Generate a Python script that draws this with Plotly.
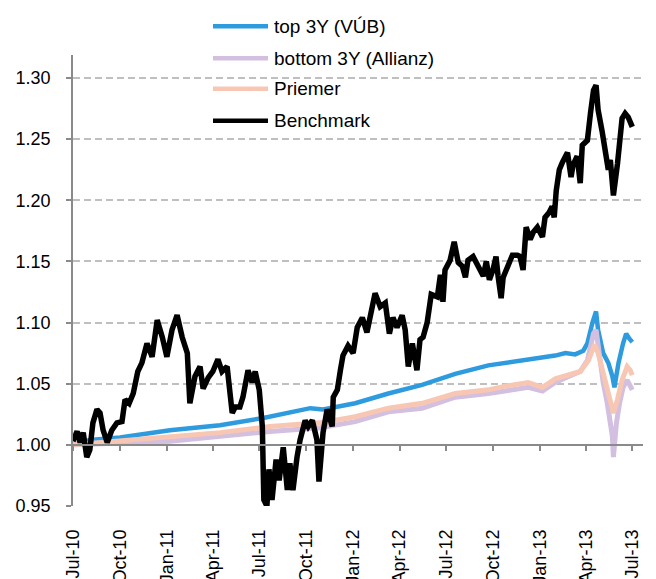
import plotly.graph_objects as go

# ---------------- data ----------------
series_names = ["top 3Y (VÚB)", "bottom 3Y (Allianz)", "Priemer", "Benchmark"]

top_dates = ["2010-07-01", "2010-08-03", "2010-10-01", "2011-01-07", "2011-04-15", "2011-07-09",
             "2011-10-09", "2011-11-03", "2012-01-05", "2012-03-10", "2012-05-15", "2012-07-19",
             "2012-09-22", "2012-11-27", "2013-01-06", "2013-01-31", "2013-02-20", "2013-03-11",
             "2013-03-27", "2013-04-04", "2013-04-14", "2013-04-21", "2013-04-25", "2013-05-05",
             "2013-05-15", "2013-05-23", "2013-05-27", "2013-06-04", "2013-06-13", "2013-06-19",
             "2013-06-25", "2013-07-01"]
top_values = [1.000, 1.004, 1.006, 1.012, 1.016, 1.022,
              1.030, 1.029, 1.034, 1.042, 1.049, 1.058,
              1.065, 1.069, 1.071, 1.073, 1.075, 1.074,
              1.077, 1.083, 1.100, 1.109, 1.094, 1.075,
              1.067, 1.056, 1.047, 1.067, 1.083, 1.091,
              1.087, 1.084]

bottom_dates = ["2010-07-01", "2011-01-07", "2011-07-22", "2011-10-28", "2012-01-05", "2012-03-10",
                "2012-05-15", "2012-07-19", "2012-09-22", "2012-12-09", "2013-01-06", "2013-01-31",
                "2013-02-26", "2013-03-21", "2013-04-04", "2013-04-16", "2013-04-21", "2013-04-27",
                "2013-05-05", "2013-05-13", "2013-05-17", "2013-05-23", "2013-05-25", "2013-05-31",
                "2013-06-06", "2013-06-13", "2013-06-21", "2013-06-27", "2013-07-01"]
bottom_values = [1.000, 1.003, 1.011, 1.014, 1.019, 1.027,
                 1.030, 1.039, 1.042, 1.047, 1.044, 1.051,
                 1.056, 1.060, 1.069, 1.091, 1.094, 1.072,
                 1.051, 1.034, 1.023, 1.007, 0.990, 1.018,
                 1.034, 1.047, 1.053, 1.049, 1.045]

avg_dates = ["2010-07-01", "2010-08-29", "2011-01-07", "2011-04-15", "2011-07-22", "2011-10-28",
             "2012-01-05", "2012-03-10", "2012-05-15", "2012-07-19", "2012-09-22", "2012-10-25",
             "2012-12-09", "2013-01-06", "2013-01-31", "2013-02-26", "2013-03-21", "2013-04-06",
             "2013-04-18", "2013-04-25", "2013-05-09", "2013-05-19", "2013-05-25", "2013-06-02",
             "2013-06-11", "2013-06-21", "2013-06-27", "2013-07-01"]
avg_values = [1.000, 1.002, 1.006, 1.010, 1.015, 1.018,
              1.023, 1.030, 1.034, 1.042, 1.045, 1.048,
              1.051, 1.047, 1.054, 1.057, 1.060, 1.069,
              1.082, 1.075, 1.053, 1.034, 1.026, 1.037,
              1.053, 1.064, 1.061, 1.057]

bench_dates = [
    "2010-07-01", "2010-07-09", "2010-07-15", "2010-07-21", "2010-07-28", "2010-08-03",
    "2010-08-09", "2010-08-17", "2010-08-23", "2010-08-29", "2010-09-06", "2010-09-15",
    "2010-09-25", "2010-10-05", "2010-10-11", "2010-10-19", "2010-10-27", "2010-11-05",
    "2010-11-13", "2010-11-23", "2010-12-03", "2010-12-13", "2010-12-23", "2011-01-01",
    "2011-01-11", "2011-01-21", "2011-01-31", "2011-02-10", "2011-02-15", "2011-02-25",
    "2011-03-07", "2011-03-13", "2011-03-23", "2011-04-01", "2011-04-11", "2011-04-19",
    "2011-04-29", "2011-05-09", "2011-05-15", "2011-05-24", "2011-05-30", "2011-06-09",
    "2011-06-17", "2011-06-23", "2011-07-01", "2011-07-07", "2011-07-10", "2011-07-16",
    "2011-07-20", "2011-07-26", "2011-08-03", "2011-08-09", "2011-08-17", "2011-08-25",
    "2011-08-30", "2011-09-05", "2011-09-13", "2011-09-19", "2011-09-29", "2011-10-05",
    "2011-10-13", "2011-10-22", "2011-10-26", "2011-11-03", "2011-11-11", "2011-11-21",
    "2011-11-23", "2011-12-01", "2011-12-07", "2011-12-12", "2011-12-22", "2012-01-01",
    "2012-01-09", "2012-01-19", "2012-01-28", "2012-02-03", "2012-02-13", "2012-02-23",
    "2012-03-04", "2012-03-12", "2012-03-19", "2012-03-27", "2012-04-06", "2012-04-12",
    "2012-04-18", "2012-04-26", "2012-05-05", "2012-05-11", "2012-05-17", "2012-05-25",
    "2012-06-02", "2012-06-14", "2012-06-20", "2012-06-25", "2012-06-29", "2012-07-09",
    "2012-07-17", "2012-07-25", "2012-08-02", "2012-08-08", "2012-08-13", "2012-08-23",
    "2012-09-02", "2012-09-12", "2012-09-18", "2012-09-24", "2012-10-01", "2012-10-07",
    "2012-10-11", "2012-10-17", "2012-10-21", "2012-10-31", "2012-11-08", "2012-11-18",
    "2012-11-23", "2012-11-29", "2012-12-05", "2012-12-13", "2012-12-19", "2012-12-27",
    "2013-01-06", "2013-01-11", "2013-01-19", "2013-01-25", "2013-01-29", "2013-02-02",
    "2013-02-08", "2013-02-14", "2013-02-24", "2013-03-03", "2013-03-07", "2013-03-15",
    "2013-03-21", "2013-03-25", "2013-04-04", "2013-04-10", "2013-04-16", "2013-04-21",
    "2013-04-25", "2013-05-03", "2013-05-09", "2013-05-15", "2013-05-19", "2013-05-25",
    "2013-06-02", "2013-06-08", "2013-06-11", "2013-06-17", "2013-06-23", "2013-07-01"]
bench_values = [
    1.003, 1.011, 1.002, 1.010, 0.990, 0.996,
    1.018, 1.029, 1.026, 1.012, 1.002, 1.012,
    1.018, 1.019, 1.037, 1.034, 1.042, 1.060,
    1.067, 1.083, 1.072, 1.102, 1.088, 1.072,
    1.094, 1.106, 1.088, 1.075, 1.034, 1.056,
    1.064, 1.046, 1.055, 1.060, 1.070, 1.060,
    1.064, 1.026, 1.031, 1.031, 1.039, 1.061,
    1.051, 1.060, 1.045, 1.015, 0.955, 0.950,
    0.980, 0.955, 0.988, 0.971, 0.998, 0.963,
    0.985, 0.963, 0.990, 1.004, 1.020, 1.015,
    1.020, 1.004, 0.970, 1.010, 1.029, 1.015,
    1.039, 1.045, 1.061, 1.073, 1.081, 1.075,
    1.096, 1.104, 1.092, 1.106, 1.124, 1.113,
    1.116, 1.091, 1.104, 1.096, 1.106, 1.094,
    1.064, 1.083, 1.061, 1.086, 1.088, 1.100,
    1.123, 1.121, 1.139, 1.117, 1.143, 1.151,
    1.166, 1.149, 1.146, 1.137, 1.151, 1.154,
    1.146, 1.138, 1.150, 1.135, 1.143, 1.154,
    1.138, 1.120, 1.137, 1.146, 1.155, 1.155,
    1.154, 1.143, 1.178, 1.168, 1.174, 1.178,
    1.170, 1.186, 1.190, 1.195, 1.186, 1.208,
    1.225, 1.231, 1.239, 1.219, 1.229, 1.236,
    1.214, 1.245, 1.249, 1.271, 1.290, 1.294,
    1.274, 1.256, 1.241, 1.225, 1.233, 1.204,
    1.230, 1.255, 1.267, 1.271, 1.268, 1.260]

tick_dates = ["2010-07-01", "2010-10-01", "2011-01-01", "2011-04-01", "2011-07-01", "2011-10-01",
              "2012-01-01", "2012-04-01", "2012-07-01", "2012-10-01", "2013-01-01", "2013-04-01",
              "2013-07-01"]
tick_labels = ["Jul-10", "Oct-10", "Jan-11", "Apr-11", "Jul-11", "Oct-11", "Jan-12", "Apr-12",
               "Jul-12", "Oct-12", "Jan-13", "Apr-13", "Jul-13"]
y_ticks = [0.95, 1.00, 1.05, 1.10, 1.15, 1.20, 1.25, 1.30]

# ---------------- style ----------------
colors = ["#2E9BDE", "#D3BFDF", "#F8C7B4", "#000000"]
widths = [4.5, 5, 5, 5.5]
Y_MIN, Y_MAX = 0.95, 1.3188
X_MIN, X_MAX = "2010-07-01", "2013-07-22"
AXIS_CROSS = 1.00
AXIS_GRAY = "#8A8A8A"
GRID_GRAY = "#BFBFBF"
FONT = "Liberation Sans, Arial, sans-serif"

fig = go.Figure()
all_x = [top_dates, bottom_dates, avg_dates, bench_dates]
all_y = [top_values, bottom_values, avg_values, bench_values]
for name, xs, ys, c, w in zip(series_names, all_x, all_y, colors, widths):
    fig.add_trace(go.Scatter(x=xs, y=ys, name=name, mode="lines",
                             line=dict(color=c, width=w), showlegend=False))

# helper trace so the crossing axis (at 1.00) is drawn
fig.add_trace(go.Scatter(x=[X_MIN, X_MAX], y=[None, None], xaxis="x2", yaxis="y",
                         mode="lines", showlegend=False, hoverinfo="skip"))

cross_pos = (AXIS_CROSS - Y_MIN) / (Y_MAX - Y_MIN)

# the page body has an 8px margin, so the figure is sized/offset to compensate
fig.update_layout(
    width=648, height=571,
    margin=dict(l=65, r=13, t=47, b=73, autoexpand=False),
    paper_bgcolor="white", plot_bgcolor="white",
    font=dict(family=FONT, size=18, color="#000000"),
    xaxis=dict(type="date", range=[X_MIN, X_MAX], tickmode="array",
               tickvals=tick_dates, ticktext=tick_labels, tickangle=-90,
               showline=False, showgrid=False, zeroline=False, ticks="",
               ticklabelstandoff=19, tickfont=dict(size=18), automargin=False),
    xaxis2=dict(type="date", range=[X_MIN, X_MAX], overlaying="x", anchor="free",
                position=cross_pos, side="bottom", showline=True, linecolor=AXIS_GRAY,
                linewidth=1.5, ticks="outside", ticklen=5, tickwidth=1.5, tickcolor=AXIS_GRAY,
                tickmode="array", tickvals=tick_dates, showticklabels=False,
                showgrid=False, zeroline=False, automargin=False),
    yaxis=dict(range=[Y_MIN, Y_MAX], tickmode="array", tickvals=y_ticks, tickformat=".2f",
               showline=True, linecolor=AXIS_GRAY, linewidth=1.5, ticks="outside", ticklen=5,
               tickwidth=1.5, tickcolor=AXIS_GRAY, showgrid=True, gridcolor=GRID_GRAY,
               gridwidth=1.5, griddash="7px,4px", zeroline=False, ticklabelstandoff=12,
               tickfont=dict(size=18), automargin=False),
)

# manual legend (line samples + labels) at top
legend_rows_y = [1.064, 0.993, 0.925, 0.854]
for name, c, ly in zip(series_names, colors, legend_rows_y):
    fig.add_shape(type="line", xref="paper", yref="paper", x0=0.2456, x1=0.3421, y0=ly, y1=ly,
                  line=dict(color=c, width=4.5))
    fig.add_annotation(xref="paper", yref="paper", x=0.349, y=ly, text=name, showarrow=False,
                       xanchor="left", yanchor="middle", font=dict(size=19, color="#000000"))

fig.write_html("out.html")
